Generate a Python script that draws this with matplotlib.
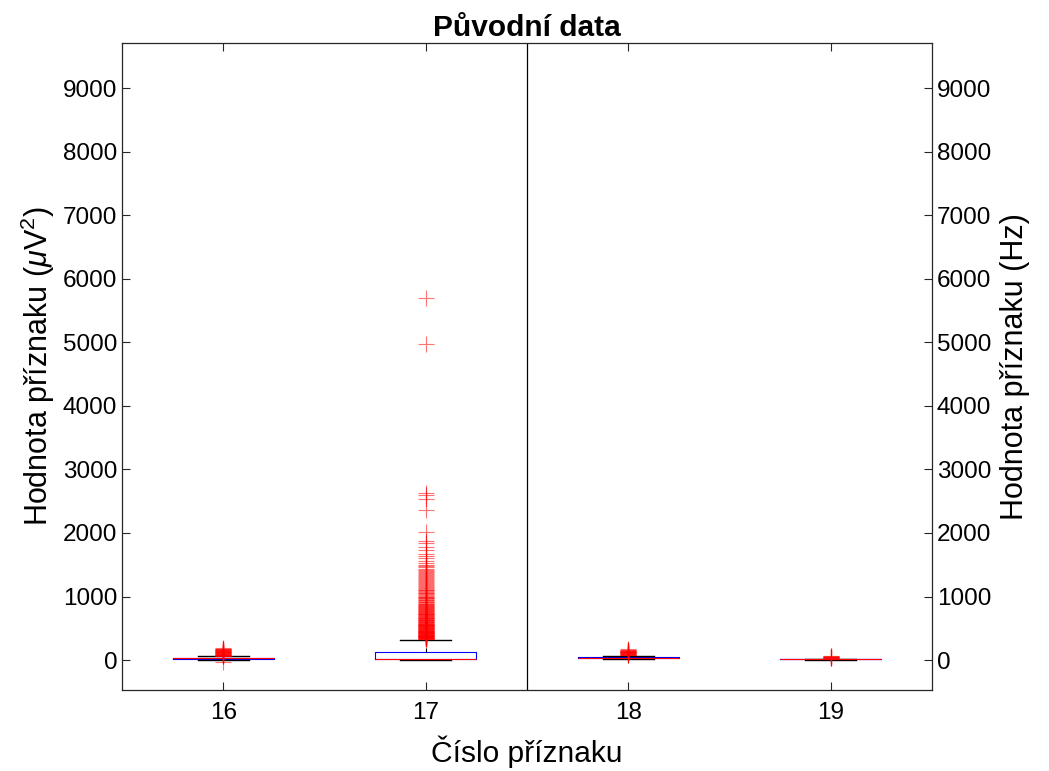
import matplotlib
matplotlib.use('Agg')
import matplotlib.pyplot as plt

plt.rcParams['font.family'] = ['Liberation Sans', 'DejaVu Sans']
plt.rcParams['mathtext.fontset'] = 'custom'
plt.rcParams['mathtext.it'] = 'Liberation Sans:italic'
plt.rcParams['mathtext.rm'] = 'Liberation Sans'

# feature numbers
features = [16, 17, 18, 19]

# box statistics
q1 = [25, 15, 30, 12]
med = [30, 20, 40, 15]
q3 = [40, 130, 50, 20]
whis_lo = [5, 0, 15, 8]
whis_hi = [60, 318, 70, 25]

# outliers
out_16 = [-25, 62, 66, 70, 74, 78, 82, 85, 90, 95, 100, 105, 110, 115, 120,
          125, 130, 135, 140, 145, 150, 155, 160, 165, 170, 175, 182, 190]
out_18 = [75, 80, 85, 90, 95, 100, 105, 110, 115, 120, 125, 130, 135, 140,
          145, 150, 155, 162, 170]
out_19 = [30, 35, 38, 42, 45, 50, 55, 60, 65]
out_17 = [330, 334, 338, 342, 345, 348, 352, 356, 360, 364, 368, 372, 375, 379,
          383, 387, 390, 394, 398, 402, 405, 410, 415, 420, 425, 428, 432, 436,
          440, 445, 450, 454, 458, 462, 465, 470, 475, 480, 485, 490, 495, 500,
          505, 510, 515, 520, 525, 530, 535, 540, 545, 550, 555, 560, 565, 570,
          575, 582, 588, 594, 600, 606, 612, 618, 625, 632, 638, 644, 650, 656,
          662, 668, 675, 682, 690, 698, 705, 712, 718, 724, 730, 738, 745, 752,
          760, 768, 775, 782, 790, 798, 805, 812, 820, 830, 838, 846, 855, 862,
          870, 880, 890, 900, 910, 920, 930, 940, 950, 960, 970, 980, 990, 1000,
          1010, 1022, 1035, 1048, 1060, 1072, 1085, 1098, 1110, 1125, 1140, 1155,
          1170, 1185, 1200, 1215, 1230, 1245, 1260, 1275, 1290, 1305, 1320, 1335,
          1350, 1365, 1380, 1400, 1420, 1440, 1460, 1480, 1500, 1530, 1560, 1600,
          1636, 1668, 1730, 1778, 1840, 1872, 2014, 2360, 2533, 2596, 2627,
          4970, 5700]
outliers = [out_16, out_17, out_18, out_19]

stats = []
for i in range(len(features)):
    stats.append({'q1': q1[i], 'med': med[i], 'q3': q3[i],
                  'whislo': whis_lo[i], 'whishi': whis_hi[i],
                  'fliers': outliers[i]})

fig = plt.figure(figsize=(10.49, 7.71), dpi=100)
ax = fig.add_axes([0.1163, 0.1051, 0.7722, 0.8391])

ax.bxp(stats, positions=features, widths=0.5,
       boxprops=dict(color='blue', linewidth=0.8),
       medianprops=dict(color='red', linewidth=0.8),
       whiskerprops=dict(color='black', linewidth=0.8, linestyle='--'),
       capprops=dict(color='black', linewidth=1.0),
       capwidths=0.25,
       flierprops=dict(marker='+', markeredgecolor='red', markersize=12,
                       markeredgewidth=0.8, alpha=0.55, linestyle='none'))

ax.axvline(17.5, color='black', linewidth=0.9)
ax.set_xlim(15.5, 19.5)
ax.set_ylim(-470, 9710)
ax.set_xticks(features)
ax.set_xticklabels([str(f) for f in features])
yticks = [0, 1000, 2000, 3000, 4000, 5000, 6000, 7000, 8000, 9000]
ax.set_yticks(yticks)
ax.tick_params(direction='in', top=True, labelsize=17.5, length=6, color='#262626')
ax.tick_params(axis='x', pad=9)

for s in ax.spines.values():
    s.set_color('#262626')
    s.set_linewidth(0.9)

ax.set_xlabel('Číslo příznaku', fontsize=21.5, labelpad=8)
ax.set_ylabel(r'Hodnota příznaku ($\mu$V$^2$)', fontsize=22, labelpad=4)
ax.set_title('Původní data', fontsize=21.5, fontweight='bold', pad=5)

ax2 = ax.twinx()
ax2.set_ylim(ax.get_ylim())
ax2.set_yticks(yticks)
ax2.tick_params(direction='in', labelsize=17.5, length=6, color='#262626')
ax2.set_ylabel('Hodnota příznaku (Hz)', fontsize=22, labelpad=6)
for s in ax2.spines.values():
    s.set_visible(False)

fig.savefig('out.png', dpi=100)
